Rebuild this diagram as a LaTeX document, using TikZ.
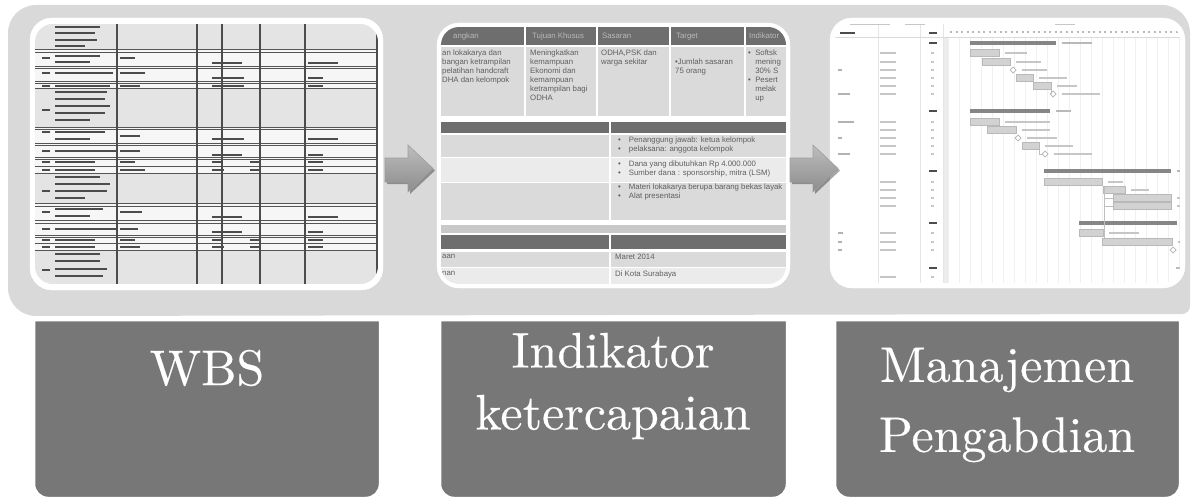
\documentclass[tikz,border=0pt]{standalone}
\usepackage{fontspec}
\newfontfamily\tabfont{Liberation Sans}
\newfontfamily\lblfont{lmroman10-regular.otf}[FakeBold=0.3]
\usetikzlibrary{shadows}
\definecolor{band}{HTML}{D9D9D9}
\definecolor{darkbox}{HTML}{777777}
\definecolor{hdr}{HTML}{6E6E6E}
\definecolor{rowA}{HTML}{DADADA}
\definecolor{rowB}{HTML}{EBEBEB}
\definecolor{strip}{HTML}{C9C9C9}
\definecolor{txt}{HTML}{5F5F5F}
\definecolor{tgray}{HTML}{E4E4E4}
\definecolor{tlight}{HTML}{F6F6F6}
\definecolor{gline}{HTML}{555555}
\definecolor{garrowtop}{HTML}{BDBDBD}
\definecolor{garrowbot}{HTML}{8C8C8C}
\tikzset{
  panel/.style={fill=white, draw=white, rounded corners=22, inner sep=0},
  darkboxshape/.style={fill=darkbox, draw=white, line width=2.5pt},
  lbl/.style={text=white, font=\lblfont\fontsize{50}{62}\selectfont, align=center, inner sep=0},
  ghost/.style={line width=1.7pt, draw=gray!60!black},
  lghost/.style={line width=1.4pt, draw=gray!45},
  hline/.style={draw=gline, line width=0.9pt},
  vline/.style={draw=gline!90!black, line width=1.4pt},
  tt/.style={font=\tabfont\fontsize{7.8}{9}\selectfont, text=txt, inner sep=0, anchor=north west, align=left},
  th/.style={font=\tabfont\fontsize{7.8}{9}\selectfont, text=gray!55, inner sep=0, anchor=base west},
  sumbar/.style={line width=4pt, draw=gray!95},
  subbar/.style={fill=gray!35, draw=gray!55, line width=0.6pt},
  mile/.style={draw=gray!60, line width=0.7pt, fill=white},
  blockarrow/.style={top color=garrowtop, bottom color=garrowbot, draw=gray!75, line width=0.6pt,
     drop shadow={shadow xshift=2pt, shadow yshift=-2pt, opacity=0.35, fill=black}},
}
\begin{document}
\begin{tikzpicture}[x=1pt,y=-1pt]
\useasboundingbox (0,0) rectangle (1191,500);
\fill[white] (0,0) rectangle (1191,500);

% background band
\fill[band] (8,33) arc[start angle=180,end angle=270,radius=28] -- (1162,5)
  arc[start angle=270,end angle=360,radius=28] -- (1190,306)
  arc[start angle=0,end angle=90,radius=8] -- (36,316)
  arc[start angle=90,end angle=180,radius=28] -- cycle;

% dark label boxes
\foreach \a/\b in {34/380,440/787,835/1180}{
  \draw[darkboxshape] (\a,320) -- (\a,484) arc[start angle=180,end angle=90,radius=14]
    -- ({\b-14},498) arc[start angle=90,end angle=0,radius=14] -- (\b,320) -- cycle;
}
\node[lbl] (t1) at (207,368) {WBS};
\node[lbl] (t2) at (613,386) {Indikator\\ketercapaian};
\node[lbl, font=\lblfont\fontsize{50}{70}\selectfont] (t3) at (1007,405) {Manajemen\\Pengabdian};

% ---------------- panels
\node[panel, minimum width=353, minimum height=272] (p1) at (206.5,154) {};
\node[panel, minimum width=353, minimum height=265] (p2) at (613.5,155.5) {};
\node[panel, minimum width=355, minimum height=270] (p3) at (1007.5,153) {};

% ---- panel 1: WBS table
\begin{scope}
\clip[rounded corners=18] (35,24) rectangle (378,284);
\fill[tlight] (35,24) rectangle (378,284);
\foreach \a/\b in {24/49,88/127,173/203,250/284} \fill[tgray] (35,\a) rectangle (378,\b);
\foreach \y in {49,52,66,68,81,83,88,127,129,143,145,157,159,166,173,203,206,220,223,235,237,243,250}
  \draw[hline] (35,\y) -- (378,\y);
\foreach \x in {117,197,222,260,305,377} \draw[vline] (\x,24) -- (\x,284);
\foreach \y/\l in {27/45,33/40,40/42,46/30,56/45,62/35,73/58,86/55,92/52,99/50,106/55,113/50,120/35,
  132/50,139/35,151/62,162/40,170/40,177/45,184/55,191/52,198/30,209/48,216/35,229/62,240/40,247/40,
  254/45,261/45,269/52,276/48}
  \draw[ghost] (55,\y) -- ++(\l,0);
\foreach \y in {58,73,86,110,132,151,162,170,191,212,229,240,247,270}
  \draw[ghost] (42,\y) -- ++(8,0);
\foreach \y/\l in {58/15,73/25,86/20,136/20,151/20,162/15,170/25,212/22,229/18,240/15,247/20}
  \draw[ghost] (120,\y) -- ++(\l,0);
\foreach \y/\l in {63/30,78/32,86/32,139/32,155/30,162/10,170/12,217/30,232/30,240/10,247/12}
  \draw[ghost] (212,\y) -- ++(\l,0);
\foreach \y in {162,170,240,247} \draw[ghost] (250,\y) -- ++(10,0);
\foreach \y/\l in {63/30,78/15,86/15,139/30,155/15,162/15,170/15,217/30,232/15,240/15,247/15}
  \draw[ghost] (308,\y) -- ++(\l,0);
\end{scope}

% ---- panel 2: indicator table
\begin{scope}
\clip[rounded corners=18] (441,27) rectangle (786,284);
\fill[white] (441,27) rectangle (786,284);
\fill[hdr] (441,27) rectangle (786,45);
\fill[rowA] (441,47) rectangle (786,116);
\foreach \x in {525,597,670,745} \draw[white, line width=2.5pt] (\x,27) -- (\x,116);
\fill[hdr] (441,122) rectangle (786,133);
\fill[rowA] (441,135) rectangle (786,157);
\fill[rowB] (441,158) rectangle (786,182);
\fill[rowA] (441,183) rectangle (786,220);
\fill[strip] (441,225) rectangle (786,233);
\fill[hdr] (441,235) rectangle (786,249);
\fill[rowA] (441,252) rectangle (786,267);
\fill[rowB] (441,268) rectangle (786,284);
\draw[white, line width=2.5pt] (610,122) -- (610,220);
\draw[white, line width=2.5pt] (610,235) -- (610,284);
\node[th] (h1) at (453,39) {angkan};
\node[th] (h2) at (532,39) {Tujuan Khusus};
\node[th] (h3) at (602,39) {Sasaran};
\node[th] (h4) at (676,39) {Target};
\node[th] (h5) at (749,39) {Indikator};
\node[tt] (c1) at (442,50) {an lokakarya dan\\bangan ketrampilan\\pelatihan handcraft\\DHA dan kelompok};
\node[tt] (c2) at (530,50) {Meningkatkan\\kemampuan\\Ekonomi dan\\kemampuan\\ketrampilan bagi\\ODHA};
\node[tt] (c3) at (601,50) {ODHA,PSK dan\\warga sekitar};
\node[tt] (c4) at (675,59) {\textbullet Jumlah sasaran\\75 orang};
\node[tt] (c5) at (748,50) {\textbullet\ \ Softsk\\\phantom{\textbullet}\ \ mening\\\phantom{\textbullet}\ \ 30\% S\\\textbullet\ \ Pesert\\\phantom{\textbullet}\ \ melak\\\phantom{\textbullet}\ \ up};
\node[tt] (d1) at (618,137) {\textbullet\hspace{8pt}Penanggung jawab: ketua kelompok\\\textbullet\hspace{8pt}pelaksana: anggota kelompok};
\node[tt] (d2) at (618,161) {\textbullet\hspace{8pt}Dana yang dibutuhkan Rp 4.000.000\\\textbullet\hspace{8pt}Sumber dana : sponsorship, mitra (LSM)};
\node[tt] (d3) at (618,184) {\textbullet\hspace{8pt}Materi lokakarya berupa barang bekas layak\\\textbullet\hspace{8pt}Alat presentasi};
\node[tt] (e1) at (442,254) {aan};
\node[tt] (e2) at (615,254) {Maret 2014};
\node[tt] (e3) at (442,271) {nan};
\node[tt] (e4) at (615,271) {Di Kota Surabaya};
\end{scope}

% ---- panel 3: Gantt chart
\begin{scope}
\clip[rounded corners=18] (835,23) rectangle (1180,283);
\fill[white] (835,23) rectangle (1180,283);
\foreach \x in {948,959,...,1180} \draw[gray!12, line width=0.6pt] (\x,37) -- (\x,283);
\fill[gray!15] (943,37) rectangle (948,283);
\foreach \x in {878,920,943} \draw[gray!20, line width=0.6pt] (\x,24) -- (\x,283);
\draw[gray!30, line width=0.7pt] (835,37) -- (1180,37);
\foreach \a/\b in {850/890,905/925,1055/1075} \draw[lghost, line width=1pt] (\a,25) -- (\b,25);
\draw[ghost, line width=1.3pt] (840,33) -- ++(15,0);
\draw[ghost, line width=1.3pt] (929,33) -- ++(8,0);
\foreach \x in {950,955.5,...,1176} \draw[gray!55, line width=1.1pt] (\x,32) -- ++(2.2,0);
% left columns
\foreach \y in {53,62,70,78,86,94,122,130,138,146,154,182,190,198,206,233,242,250,277}{
  \draw[lghost] (880,\y) -- ++(16,0);
  \draw[lghost] (931,\y) -- ++(3,0);
}
\foreach \y in {43,111,171,223,268} \draw[ghost, line width=1.3pt] (929,\y) -- ++(8,0);
\foreach \y/\l in {70/4,94/12,122/16,138/4,154/12,233/5,242/4,250/4} \draw[lghost, draw=gray!60] (838,\y) -- ++(\l,0);
% summary bars
\foreach \a/\b/\y/\l in {970/1056/43/30,970/1050/111/15,1044/1171/171/4,1079/1177/223/0}{
  \draw[sumbar] (\a,\y) -- (\b,\y);
  \draw[lghost, draw=gray!55] (\b+6,\y) -- ++(\l,0);
}
% task bars
\foreach \a/\b/\y/\l in {970/999/53/22,982/1010/62/25,1016/1033/78/28,1033/1051/86/20,970/999/122/45,
  987/1016/130/28,1022/1039/146/28,1044/1102/182/15,1103/1125/190/18,1113/1171/198/4,1113/1171/206/4,
  1079/1103/233/30,1102/1172/242/4}{
  \draw[subbar] (\a,\y-3.5) rectangle (\b,\y+3.5);
  \draw[lghost] (\b+6,\y) -- ++(\l,0);
}
% milestones
\foreach \x/\y/\l in {1013/70/25,1053/94/38,1018/138/30,1045/154/38,1173/250/0}{
  \draw[mile] (\x-3,\y) -- (\x,\y-3) -- (\x+3,\y) -- (\x,\y+3) -- cycle;
  \draw[lghost] (\x+9,\y) -- ++(\l,0);
}
% dependency lines
\draw[gray!50, line width=0.6pt] (1104,186) -- (1104,238);
\draw[gray!50, line width=0.6pt] (1104,198) -- (1113,198);
\draw[gray!50, line width=0.6pt] (1104,206) -- (1113,206);
\draw[gray!50, line width=0.6pt] (1051,90) -- (1051,94);
\draw[gray!50, line width=0.6pt] (1039,150) -- (1039,154) -- (1042,154);
\draw[lghost, draw=gray!55] (1176,268) -- ++(4,0);
\end{scope}

% ---- block arrows between panels
\path[blockarrow] (385,158) -- (408,158) -- (408,145) -- (433,168.5) -- (408,192) -- (408,182) -- (385,182) -- cycle;
\path[blockarrow] (790,158) -- (813,158) -- (813,145) -- (838,168.5) -- (813,192) -- (813,182) -- (790,182) -- cycle;
\end{tikzpicture}
\end{document}
